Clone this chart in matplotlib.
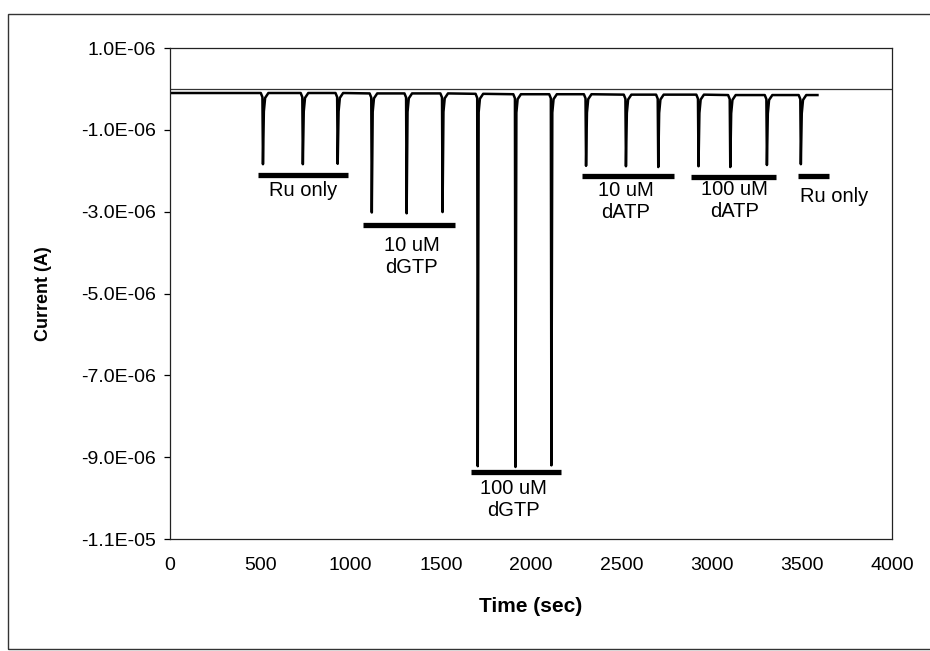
import numpy as np
import matplotlib
matplotlib.use('Agg')
import matplotlib.pyplot as plt
from matplotlib.patches import Rectangle
from matplotlib.ticker import FuncFormatter

plt.rc('font', family='Liberation Sans')

# trace: time (s) and current (uA)
time_s = [0,
          503, 512, 515, 520, 527, 545,
          724, 733, 736, 741, 748, 766,
          917, 926, 929, 934, 941, 959,
          1106, 1115, 1118, 1123, 1130, 1148,
          1299, 1308, 1311, 1316, 1323, 1341,
          1498, 1507, 1510, 1515, 1522, 1540,
          1693, 1702, 1705, 1710, 1717, 1735,
          1902, 1911, 1914, 1919, 1926, 1944,
          2101, 2110, 2113, 2118, 2125, 2143,
          2293, 2302, 2305, 2310, 2317, 2335,
          2514, 2523, 2526, 2531, 2538, 2556,
          2693, 2702, 2705, 2710, 2717, 2735,
          2916, 2925, 2928, 2933, 2940, 2958,
          3092, 3101, 3104, 3109, 3116, 3134,
          3295, 3304, 3307, 3312, 3319, 3337,
          3483, 3492, 3495, 3500, 3507, 3525,
          3587]
current_uA = [-0.10,
              -0.10, -0.20, -1.84, -0.55, -0.22, -0.10,
              -0.10, -0.20, -1.84, -0.55, -0.22, -0.10,
              -0.10, -0.20, -1.83, -0.55, -0.22, -0.10,
              -0.11, -0.21, -3.02, -0.56, -0.23, -0.11,
              -0.11, -0.21, -3.04, -0.56, -0.23, -0.11,
              -0.11, -0.21, -3.01, -0.56, -0.23, -0.11,
              -0.12, -0.22, -9.22, -0.57, -0.24, -0.12,
              -0.13, -0.23, -9.24, -0.58, -0.25, -0.13,
              -0.13, -0.23, -9.20, -0.58, -0.25, -0.13,
              -0.13, -0.23, -1.88, -0.58, -0.25, -0.13,
              -0.14, -0.24, -1.89, -0.59, -0.26, -0.14,
              -0.14, -0.24, -1.91, -0.59, -0.26, -0.14,
              -0.14, -0.24, -1.89, -0.59, -0.26, -0.14,
              -0.15, -0.25, -1.91, -0.60, -0.27, -0.15,
              -0.15, -0.25, -1.86, -0.60, -0.27, -0.15,
              -0.15, -0.25, -1.84, -0.60, -0.27, -0.15,
              -0.15]

# annotation bars (start, end, level in uA) and their labels
bar_start = [487, 1068, 1665, 2285, 2888, 3480]
bar_end = [985, 1577, 2168, 2794, 3358, 3651]
bar_level = [-2.10, -3.33, -9.37, -2.14, -2.15, -2.14]
label_text = ['Ru only', '10 uM\ndGTP', '100 uM\ndGTP', '10 uM\ndATP', '100 uM\ndATP', 'Ru only']
label_x = [736, 1339, 1903, 2523, 3126, 3679]
label_y = [-2.25, -3.60, -9.53, -2.25, -2.23, -2.39]

y_ticks = [1e-6, -1e-6, -3e-6, -5e-6, -7e-6, -9e-6, -1.1e-5]
x_ticks = [0, 500, 1000, 1500, 2000, 2500, 3000, 3500, 4000]

fig = plt.figure(figsize=(9.3, 6.51), dpi=100)
ax = fig.add_axes([170/930., 1-539/651., 722/930., 491/651.])

t = np.array(time_s)
cur = np.array(current_uA) * 1e-6
ax.plot(t, cur, color='black', lw=1.8, solid_joinstyle='round')
ax.axhline(0, color='#333333', lw=0.9)

for x0, x1, lv in zip(bar_start, bar_end, bar_level):
  ax.plot([x0, x1], [lv*1e-6, lv*1e-6], color='black', lw=3.8, solid_capstyle='butt')
for txt, x, y in zip(label_text, label_x, label_y):
  ax.text(x, y*1e-6, txt, ha='center', va='top', fontsize=14.5, linespacing=1.2)

ax.set_xlim(0, 4000)
ax.set_ylim(-1.1e-5, 1e-6)
ax.set_xticks(x_ticks)
ax.set_yticks(y_ticks)
ax.yaxis.set_major_formatter(FuncFormatter(lambda v, p: '%.1E' % v))
ax.tick_params(axis='x', length=0, pad=13, labelsize=14)
ax.tick_params(axis='y', length=4, width=0.9, pad=6, labelsize=14, direction='out')
for s in ax.spines.values():
  s.set_linewidth(0.9)
  s.set_color('#222222')

ax.set_xlabel('Time (sec)', fontsize=15, fontweight='bold')
ax.set_ylabel('Current (A)', fontsize=13, fontweight='bold')
ax.xaxis.set_label_coords(0.5, -0.118)
ax.yaxis.set_label_coords(-0.163, 0.5)

# outer frame of the scanned figure
fig.patches.append(Rectangle((8/930., 2/651.), 1.0, 635/651., transform=fig.transFigure,
                             fill=False, edgecolor='#333333', lw=1.0))

fig.savefig('out.png', dpi=100)
